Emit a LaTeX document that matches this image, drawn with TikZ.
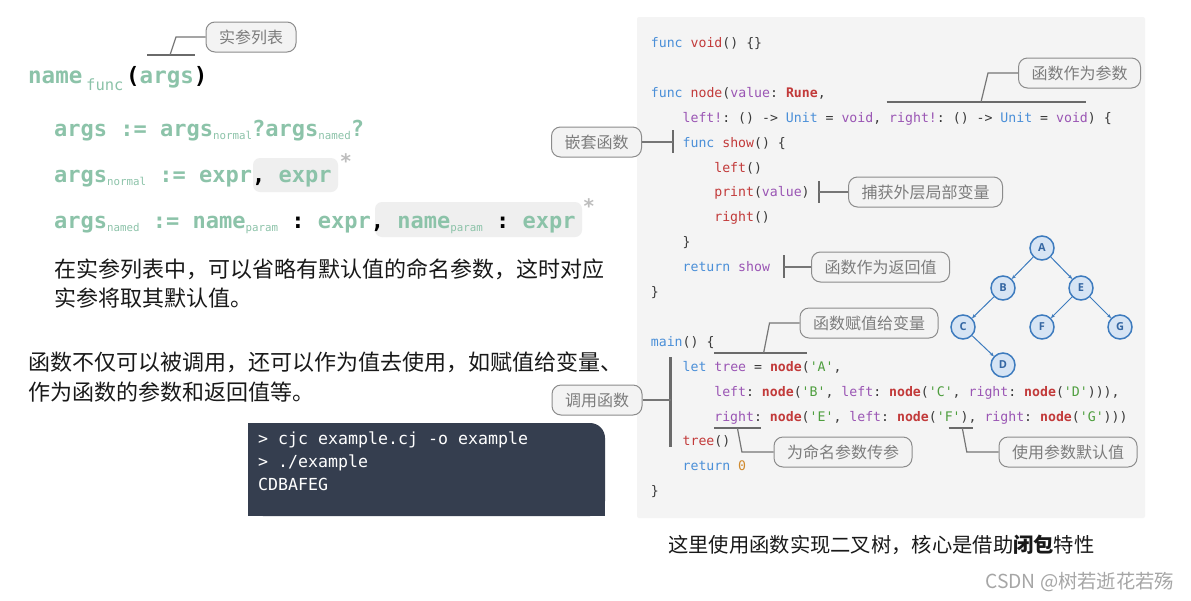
\documentclass[tikz,border=0pt]{standalone}
\usepackage{fontspec}
\usepackage{xcolor}
\usetikzlibrary{arrows.meta}
\setmainfont{Noto Sans CJK SC}
\newfontfamily\cjk{Noto Sans CJK SC}
\newfontfamily\codefont{DejaVu Sans Mono}
\newfontfamily\treefont{Open Sans}
\definecolor{gram}{HTML}{8CC3A9}
\definecolor{kwblue}{HTML}{4A8FD8}
\definecolor{fnred}{HTML}{C23A3A}
\definecolor{parpur}{HTML}{9A55B4}
\definecolor{strgreen}{HTML}{4E9E3E}
\definecolor{numorange}{HTML}{D08A2E}
\definecolor{punct}{HTML}{3A3A3A}
\definecolor{codebg}{HTML}{F4F4F4}
\definecolor{termbg}{HTML}{353E4F}
\definecolor{calloutline}{HTML}{8C8C8C}
\definecolor{callouttext}{HTML}{7C7C7C}
\definecolor{calloutfill}{HTML}{F3F3F3}
\definecolor{connc}{HTML}{767676}
\definecolor{ulinec}{HTML}{6A6A6A}
\definecolor{treeline}{HTML}{3D7BBE}
\definecolor{treefill}{HTML}{D6E4F4}
\definecolor{treetext}{HTML}{3567A3}
\definecolor{boxgray}{HTML}{EFEFEF}
\definecolor{stargray}{HTML}{BDBDBD}
\newcommand\ckw[1]{\textcolor{kwblue}{#1}}
\newcommand\cfn[1]{\textcolor{fnred}{#1}}
\newcommand\cfb[1]{\textcolor{fnred}{\bfseries #1}}
\newcommand\cpar[1]{\textcolor{parpur}{#1}}
\newcommand\cstr[1]{\textcolor{strgreen}{#1}}
\newcommand\cnum[1]{\textcolor{numorange}{#1}}
\newcommand\gsub[1]{\raisebox{-3.5pt}{\mdseries\fontsize{10.8pt}{12pt}\selectfont #1}}
\newcommand\blk[1]{\textcolor{black}{#1}}
\frenchspacing
\tikzset{
  codeline/.style={anchor=base west, inner sep=0pt, text=punct,
    font=\codefont\fontsize{13.2pt}{15pt}\selectfont},
  gramline/.style={anchor=base west, inner sep=0pt, text=gram,
    font=\codefont\bfseries\fontsize{22pt}{26pt}\selectfont},
  callout/.style={draw=calloutline, line width=1pt, fill=calloutfill, rounded corners=9pt,
    text=callouttext, inner xsep=13pt, inner ysep=0pt, minimum height=30pt,
    font=\cjk\fontsize{16pt}{18pt}\selectfont},
  conn/.style={draw=connc, line width=1.2pt},
  uline/.style={draw=ulinec, line width=2.5pt},
  tick/.style={draw=ulinec, line width=2pt},
  para/.style={anchor=base west, inner sep=0pt, text=black!90,
    font=\cjk\fontsize{22pt}{26pt}\selectfont},
  term/.style={anchor=base west, inner sep=0pt, text=white,
    font=\codefont\fontsize{16.6pt}{18pt}\selectfont},
  tnode/.style={circle, draw=treeline, line width=1.5pt, fill=treefill, minimum size=24pt,
    inner sep=0pt, text=treetext, font=\treefont\bfseries\fontsize{11pt}{12pt}\selectfont},
  tedge/.style={draw=treeline, line width=1pt, -{Stealth[length=4pt,width=3.5pt]}}
}
\begin{document}
\begin{tikzpicture}[x=1pt,y=-1pt]
\useasboundingbox (0,0) rectangle (1191,600);
\fill[white] (0,0) rectangle (1191,600);

% ---------- backgrounds ----------
\fill[codebg, rounded corners=2pt] (637,17) rectangle (1145,518);
\fill[termbg, rounded corners=15pt] (248,423) rectangle (605,516);
\fill[termbg] (248,423) rectangle (585,516);
\fill[termbg] (248,445) rectangle (605,516);
\fill[boxgray, rounded corners=7pt] (253,158) rectangle (338,192);
\fill[boxgray, rounded corners=7pt] (375,202) rectangle (582,237);

% ---------- grammar ----------
\node[gramline, font=\codefont\bfseries\fontsize{22.5pt}{26pt}\selectfont] (tName) at (28,83) {name};
\node[anchor=base west, inner sep=0pt, text=gram, font=\codefont\fontsize{15.5pt}{17pt}\selectfont] (tFunc) at (86,90) {func};
\node[gramline, font=\codefont\bfseries\fontsize{22.5pt}{26pt}\selectfont] (tArgs) at (126,83) {\blk{(}args\blk{)}};

\node[gramline] (g1) at (54,136) {args := args\gsub{normal}?args\gsub{named}?};
\node[gramline] (g2) at (54,182) {args\gsub{normal} := expr\blk{,} expr};
\node[gramline] (g3) at (54,228) {args\gsub{named} := name\gsub{param} \blk{:} expr\blk{,} name\gsub{param} \blk{:} expr};
\node[anchor=base, inner sep=0pt, text=stargray, font=\codefont\bfseries\fontsize{20pt}{22pt}\selectfont] (s1) at (346,168) {*};
\node[anchor=base, inner sep=0pt, text=stargray, font=\codefont\bfseries\fontsize{20pt}{22pt}\selectfont] (s2) at (589,213) {*};

% ---------- paragraphs ----------
\node[para] (p1) at (54,277.4) {在实参列表中，可以省略有默认值的命名参数，这时对应};
\node[para] (p1b) at (54,306.9) {实参将取其默认值。};
\node[para] (p2) at (28,370.4) {函数不仅可以被调用，还可以作为值去使用，如赋值给变量、};
\node[para] (p2b) at (28,400) {作为函数的参数和返回值等。};

% ---------- terminal ----------
\node[term] (t1) at (258,444) {> cjc example.cj -o example};
\node[term] (t2) at (258,467) {> ./example};
\node[term] (t3) at (258,490) {CDBAFEG};

% ---------- code ----------
\node[codeline] (L0) at (650.7,47.5) {\ckw{func} \cfn{void}() \{\}};
\node[codeline] (L2) at (650.7,97.3) {\ckw{func} \cfn{node}(\cpar{value}: \cfb{Rune},};
\node[codeline] (L3) at (682.4,122.2) {\cpar{left!}: () -> \ckw{Unit} = \cpar{void}, \cpar{right!}: () -> \ckw{Unit} = \cpar{void}) \{};
\node[codeline] (L4) at (682.4,147.1) {\ckw{func} \cfn{show}() \{};
\node[codeline] (L5) at (714.1,172.0) {\cfn{left}()};
\node[codeline] (L6) at (714.1,196.9) {\cfn{print}(\cpar{value})};
\node[codeline] (L7) at (714.1,221.8) {\cfn{right}()};
\node[codeline] (L8) at (682.4,246.7) {\}};
\node[codeline] (L9) at (682.4,271.6) {\ckw{return} \cpar{show}};
\node[codeline] (L10) at (650.7,296.5) {\}};
\node[codeline] (L12) at (650.7,346.3) {\ckw{main}() \{};
\node[codeline] (L13) at (682.4,371.2) {\ckw{let} \cpar{tree} = \cfb{node}(\cstr{'A'},};
\node[codeline] (L14) at (714.1,396.1) {\cpar{left}: \cfb{node}(\cstr{'B'}, \cpar{left}: \cfb{node}(\cstr{'C'}, \cpar{right}: \cfb{node}(\cstr{'D'}))),};
\node[codeline] (L15) at (714.1,421.0) {\cpar{right}: \cfb{node}(\cstr{'E'}, \cpar{left}: \cfb{node}(\cstr{'F'}), \cpar{right}: \cfb{node}(\cstr{'G'})))};
\node[codeline] (L16) at (682.4,445.9) {\cfn{tree}()};
\node[codeline] (L17) at (682.4,470.8) {\ckw{return} \cnum{0}};
\node[codeline] (L18) at (650.7,495.7) {\}};

% ---------- tree ----------
\node[tnode] (A) at (1042,248) {A};
\node[tnode] (B) at (1003,288) {B};
\node[tnode] (E) at (1081,288) {E};
\node[tnode] (C) at (963,327) {C};
\node[tnode] (F) at (1042,327) {F};
\node[tnode] (G) at (1120,327) {G};
\node[tnode] (D) at (1003,365) {D};
\draw[tedge] (A) -- (B);
\draw[tedge] (A) -- (E);
\draw[tedge] (B) -- (C);
\draw[tedge] (C) -- (D);
\draw[tedge] (E) -- (F);
\draw[tedge] (E) -- (G);

% ---------- callouts ----------
\node[callout] (cArgs) at (251,37) {实参列表};
\node[callout] (cParam) at (1079.5,73) {函数作为参数};
\node[callout] (cNest) at (596.5,142) {嵌套函数};
\node[callout] (cCap) at (925.5,192) {捕获外层局部变量};
\node[callout] (cRet) at (880.5,267) {函数作为返回值};
\node[callout] (cAssign) at (869,323) {函数赋值给变量};
\node[callout] (cCall) at (597,400) {调用函数};
\node[callout] (cNamed) at (843,452) {为命名参数传参};
\node[callout] (cDef) at (1068,452) {使用参数默认值};

% connector anchor points
\coordinate (uArgsL) at (147,55);
\coordinate (uArgsR) at (195,55);
\coordinate (uArgsM) at (170,55);
\coordinate (uParamL) at (886.5,102);
\coordinate (uParamR) at (1086.3,102);
\coordinate (uParamM) at (981,102);
\coordinate (kNestT) at (673,130);
\coordinate (kNestB) at (673,153);
\coordinate (kNestM) at (673,142);
\coordinate (kCapT) at (819.4,181);
\coordinate (kCapB) at (819.4,203);
\coordinate (kCapM) at (819.4,192);
\coordinate (kRetT) at (784,255);
\coordinate (kRetB) at (784,278);
\coordinate (kRetM) at (784,267);
\coordinate (uAsgL) at (714.4,353);
\coordinate (uAsgR) at (807.3,353);
\coordinate (uAsgM) at (763.6,353);
\coordinate (kCallT) at (670.6,357);
\coordinate (kCallB) at (670.6,447);
\coordinate (kCallM) at (670.6,400);
\coordinate (uNamL) at (714.4,428);
\coordinate (uNamR) at (760.9,428);
\coordinate (uNamM) at (737.4,428);
\coordinate (uDefL) at (948.5,428);
\coordinate (uDefR) at (972.6,428);
\coordinate (uDefM) at (962.3,428);

\draw[uline] (uArgsL) -- (uArgsR);
\draw[conn] (cArgs.west) -- (176,37) -- (uArgsM);
\draw[uline] (uParamL) -- (uParamR);
\draw[conn] (cParam.west) -- (988,73) -- (uParamM);
\draw[tick] (kNestT) -- (kNestB);
\draw[conn] (cNest.east) -- (kNestM);
\draw[tick] (kCapT) -- (kCapB);
\draw[conn] (cCap.west) -- (kCapM);
\draw[tick] (kRetT) -- (kRetB);
\draw[conn] (cRet.west) -- (kRetM);
\draw[uline] (uAsgL) -- (uAsgR);
\draw[conn] (cAssign.west) -- (769.5,323) -- (uAsgM);
\draw[tick, line width=2.5pt] (kCallT) -- (kCallB);
\draw[conn] (cCall.east) -- (kCallM);
\draw[uline] (uNamL) -- (uNamR);
\draw[conn] (cNamed.west) -- (741.9,452) -- (uNamM);
\draw[uline] (uDefL) -- (uDefR);
\draw[conn] (cDef.west) -- (966.8,452) -- (uDefM);

% ---------- caption & watermark ----------
\node[para, font=\cjk\fontsize{20.3pt}{24pt}\selectfont] (cap) at (668,552.2) {这里使用函数实现二叉树，核心是借助\textbf{闭包}特性};
\node[anchor=base west, inner sep=0pt, text=black!35, font=\cjk\fontsize{19.3pt}{22pt}\selectfont] (wm) at (985,588.3) {CSDN @树若逝花若殇};
\end{tikzpicture}
\end{document}
